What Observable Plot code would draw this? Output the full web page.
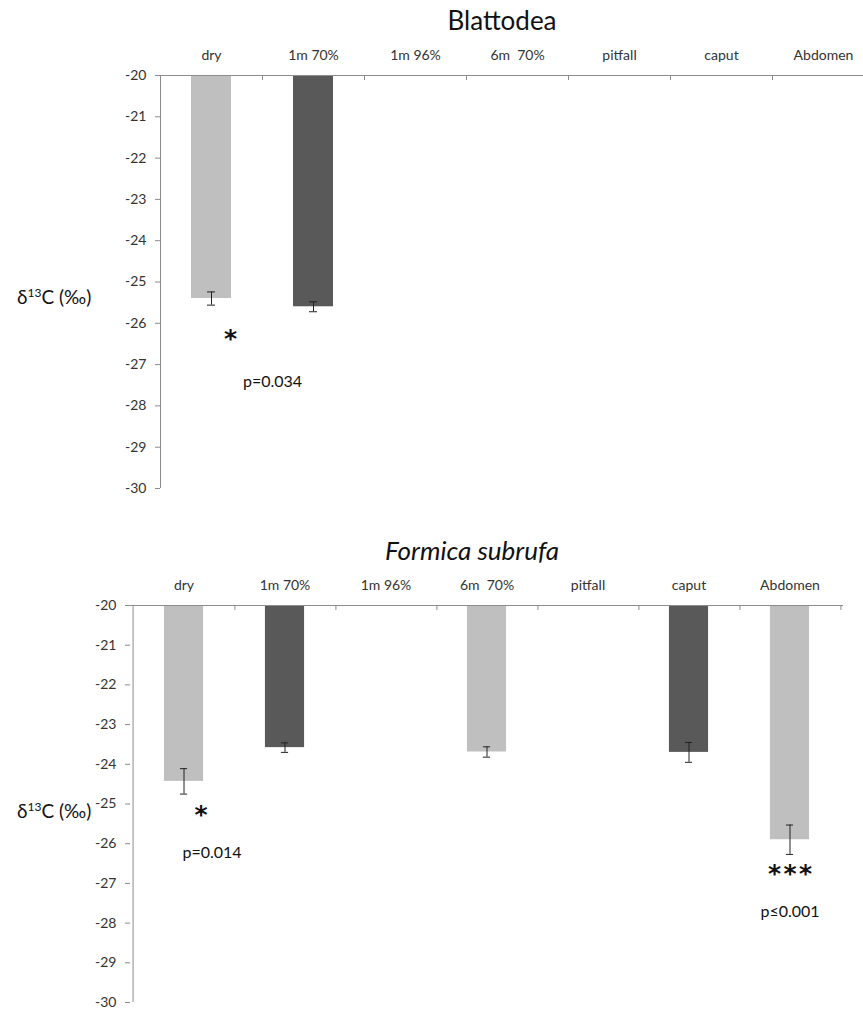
<!DOCTYPE html>
<html>
<head>
<meta charset="utf-8">
<script src="https://cdn.jsdelivr.net/npm/d3@7"></script>
<script src="https://cdn.jsdelivr.net/npm/@observablehq/plot@0.6"></script>
<style>
  body { margin: 0; background: #fff; font-family: Lato, "Open Sans", sans-serif; }
  #fig { position: relative; width: 863px; height: 1012px; overflow: hidden; }
  .panel { position: absolute; left: 0; max-width: none !important; }
  .title { position: absolute; font-size: 26px; color: #111; transform: translate(-50%, -50%); white-space: nowrap; }
  .ylab { position: absolute; left: 17px; font-size: 19px; color: #111; transform: translateY(-50%); white-space: nowrap; }
  .ylab sup { font-size: 12px; vertical-align: 7px; line-height: 0; }
  svg text { white-space: pre; }
</style>
</head>
<body>
<div id="fig"></div>
<script>
// Preservation treatments / body parts along the top axis
const categories = ["dry", "1m 70%", "1m 96%", "6m  70%", "pitfall", "caput", "Abdomen"];
const yTicks = [-20, -21, -22, -23, -24, -25, -26, -27, -28, -29, -30];

// Blattodea: mean δ13C and error
const blattodeaCats = ["dry", "1m 70%"];
const blattodeaMean = [-25.4, -25.6];
const blattodeaErr = [0.16, 0.12];

// Formica subrufa: mean δ13C and error
const formicaCats = ["dry", "1m 70%", "6m  70%", "caput", "Abdomen"];
const formicaMean = [-24.43, -23.58, -23.69, -23.7, -25.9];
const formicaErr = [0.32, 0.12, 0.13, 0.25, 0.37];

// Shade of each bar by category
const darkCats = ["1m 70%", "caput"];
const LIGHT = "#bfbfbf", DARK = "#595959", AXIS = "#8c8c8c", TEXT = "#333";

const rowsOf = (cats, mean, err) => cats.map((c, i) => ({cat: c, mean: mean[i], err: err[i]}));

function panel({rows, width, marginLeft, marginRight, marginTop, height, marginBottom, notes}) {
  const step = (width - marginLeft - marginRight) / categories.length;
  const pxPerUnit = (height - marginTop - marginBottom) / 10;
  const barInset = (step - 40) / 2;
  const capInset = (step - 8) / 2;
  const noteMarks = notes.flatMap(n => [
    Plot.text([n], {x: "cat", y: d => d.mean - d.err, text: () => n.stars, dx: n.sdx, dy: n.sdy,
      fontSize: 25, fontWeight: "bold", fill: "#111", fontFamily: "DejaVu Sans", lineAnchor: "middle"}),
    Plot.text([n], {x: "cat", y: d => d.mean - d.err, text: () => n.p, dx: n.pdx, dy: n.pdy,
      fontSize: 16, fill: "#111", lineAnchor: "middle"})
  ]);
  const svg = Plot.plot({
    width, height, marginLeft, marginRight, marginTop, marginBottom,
    style: {fontFamily: "Lato, 'Open Sans', sans-serif", background: "white"},
    x: {type: "band", domain: categories, padding: 0, axis: null, label: null},
    y: {domain: [-30, -20], axis: null, label: null},
    marks: [
      Plot.barY(rows, {x: "cat", y1: -20, y2: "mean", insetLeft: barInset, insetRight: barInset,
        fill: d => darkCats.includes(d.cat) ? DARK : LIGHT}),
      Plot.ruleX(rows, {x: "cat", y1: d => d.mean - d.err, y2: d => d.mean + d.err, stroke: "#222"}),
      Plot.tickY(rows, {x: "cat", y: d => d.mean - d.err, insetLeft: capInset, insetRight: capInset, stroke: "#222"}),
      Plot.tickY(rows, {x: "cat", y: d => d.mean + d.err, insetLeft: capInset, insetRight: capInset, stroke: "#222"}),
      // axis lines: top edge and left edge
      Plot.ruleY([-20], {stroke: AXIS}),
      Plot.ruleX([categories[0]], {dx: -step / 2, y1: -30, y2: -20, stroke: AXIS}),
      // category boundary ticks hanging below the top axis
      Plot.ruleX(categories, {dx: step / 2, y1: -20, y2: -20 - 5 / pxPerUnit, stroke: AXIS}),
      Plot.axisX({anchor: "top", label: null, tickSize: 0, tickPadding: 16, fontSize: 14, fill: TEXT}),
      Plot.axisY({anchor: "left", label: null, ticks: yTicks, tickFormat: d => String(d), tickSize: 5,
        tickPadding: 9, fontSize: 14, fill: TEXT, stroke: AXIS}),
      ...noteMarks
    ]
  });
  svg.style.maxWidth = "none";
  return svg;
}

const fig = document.getElementById("fig");

function place(el, top) {
  el.classList.add("panel");
  el.style.top = top + "px";
  fig.appendChild(el);
}

const blattodeaRows = rowsOf(blattodeaCats, blattodeaMean, blattodeaErr);
const formicaRows = rowsOf(formicaCats, formicaMean, formicaErr);

place(panel({
  rows: blattodeaRows, width: 874, marginLeft: 160, marginRight: 0,
  marginTop: 75, height: 500, marginBottom: 12,
  notes: [{...blattodeaRows[0], stars: "*", p: "p=0.034", sdx: 19, sdy: 34, pdx: 61, pdy: 77}]
}), 0);

place(panel({
  rows: formicaRows, width: 863, marginLeft: 130, marginRight: 20,
  marginTop: 75, height: 484, marginBottom: 12,
  notes: [
    {...formicaRows[0], stars: "*", p: "p=0.014", sdx: 17, sdy: 21, pdx: 28, pdy: 59},
    {...formicaRows[4], stars: "*\u200a*\u200a*", p: "p≤0.001", sdx: 0, sdy: 20, pdx: 0, pdy: 57}
  ]
}), 530);

function addDiv(cls, html, left, top) {
  const d = document.createElement("div");
  d.className = cls;
  d.innerHTML = html;
  if (left != null) d.style.left = left + "px";
  d.style.top = top + "px";
  fig.appendChild(d);
}

addDiv("title", "Blattodea", 502, 20);
addDiv("title", "<i>Formica subrufa</i>", 472, 550);
addDiv("ylab", "δ<sup>13</sup>C (‰)", null, 296);
addDiv("ylab", "δ<sup>13</sup>C (‰)", null, 810);
</script>
</body>
</html>
